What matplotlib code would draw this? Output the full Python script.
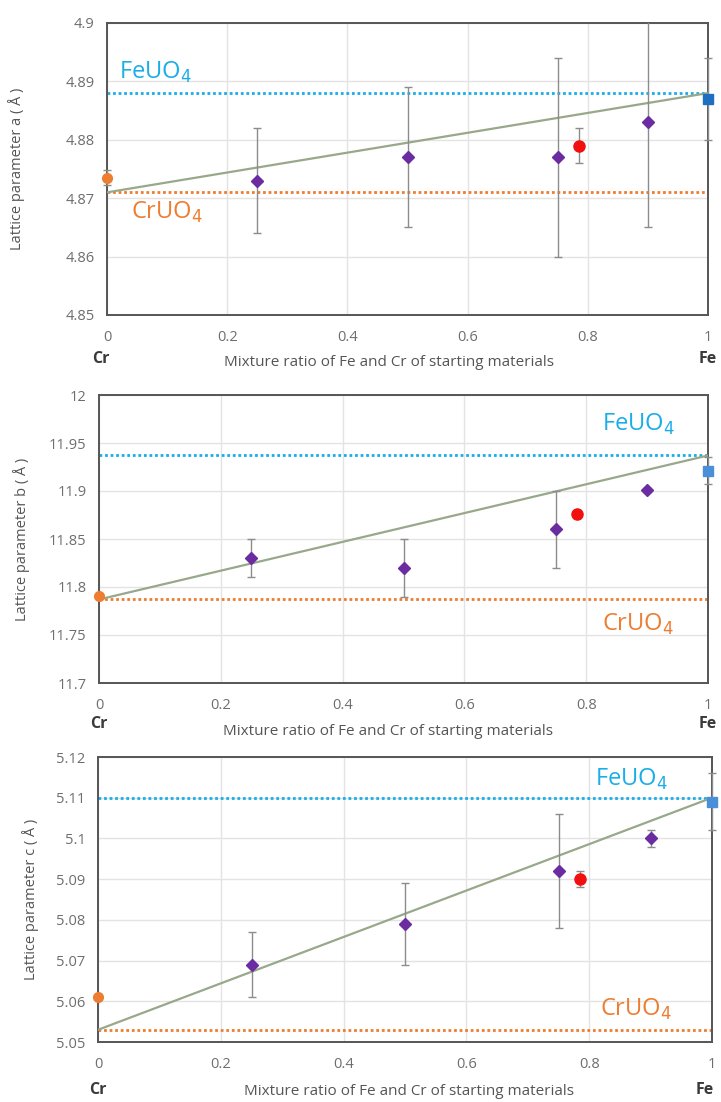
import matplotlib
matplotlib.use("Agg")
import matplotlib.pyplot as plt
import numpy as np

plt.rcParams['font.family'] = ['Open Sans', 'DejaVu Sans']

# ---------------- data ----------------
mix_x = [0.25, 0.5, 0.75, 0.9]
red_x = 0.785
end_x = [0.0, 1.0]

# lattice a
a_mix = [4.873, 4.877, 4.877, 4.883]
a_mix_err = [0.009, 0.012, 0.017, 0.018]
a_red, a_red_err = 4.879, 0.003
a_cr, a_cr_err = 4.8735, 0.0013
a_fe, a_fe_err = 4.887, 0.007
a_ref_cr, a_ref_fe = 4.871, 4.888

# lattice b
b_mix = [11.83, 11.82, 11.86, 11.901]
b_mix_err = [0.02, 0.03, 0.04, 0.002]
b_red, b_red_err = 11.876, 0.004
b_cr, b_cr_err = 11.791, 0.002
b_fe, b_fe_err = 11.921, 0.014
b_ref_cr, b_ref_fe = 11.787, 11.937

# lattice c
c_mix = [5.069, 5.079, 5.092, 5.100]
c_mix_err = [0.008, 0.010, 0.014, 0.002]
c_red, c_red_err = 5.090, 0.002
c_cr, c_cr_err = 5.061, 0.0005
c_fe, c_fe_err = 5.109, 0.007
c_ref_cr, c_ref_fe = 5.053, 5.110

xticks = [0, 0.2, 0.4, 0.6, 0.8, 1]
xtick_labels = ['0', '0.2', '0.4', '0.6', '0.8', '1']
a_ticks = [4.85, 4.86, 4.87, 4.88, 4.89, 4.9]
a_tick_labels = ['4.85', '4.86', '4.87', '4.88', '4.89', '4.9']
b_ticks = [11.7, 11.75, 11.8, 11.85, 11.9, 11.95, 12.0]
b_tick_labels = ['11.7', '11.75', '11.8', '11.85', '11.9', '11.95', '12']
c_ticks = [5.05, 5.06, 5.07, 5.08, 5.09, 5.1, 5.11, 5.12]
c_tick_labels = ['5.05', '5.06', '5.07', '5.08', '5.09', '5.1', '5.11', '5.12']

xlabel = "Mixture ratio of Fe and Cr of starting materials"

# ---------------- style ----------------
C_CYAN = '#1AAEE8'
C_ORANGE = '#ED7D31'
C_PURPLE = '#6A2CA0'
C_RED = '#F20F0F'
C_GREEN = '#98A88A'
C_ERR = '#8C8C8C'
C_GRID = '#E3E3E3'
C_SPINE = '#555555'
C_TICK = '#6E6E6E'

fig = plt.figure(figsize=(7.21, 11.02), dpi=100)

panels = [
    dict(rect=[107/721, 1-315/1102, 601/721, 292/1102], ylim=(4.85, 4.9),
         ticks=a_ticks, tl=a_tick_labels, mix=a_mix, mixe=a_mix_err, red=a_red, rede=a_red_err,
         cr=a_cr, cre=a_cr_err, fe=a_fe, fee=a_fe_err, rcr=a_ref_cr, rfe=a_ref_fe,
         ylabel='Lattice parameter a ( Å )', fecol='#1F6FC0',
         fe_txt=(0.02, 4.8915), cr_txt=(0.04, 4.8675),
         ylab_x=-0.136, xlab=(0.469, -0.164), crfe_y=-0.151, cr_x=-0.01, fe_x=1.0),
    dict(rect=[99/721, 1-683/1102, 609/721, 288/1102], ylim=(11.7, 12.0),
         ticks=b_ticks, tl=b_tick_labels, mix=b_mix, mixe=b_mix_err, red=b_red, rede=b_red_err,
         cr=b_cr, cre=b_cr_err, fe=b_fe, fee=b_fe_err, rcr=b_ref_cr, rfe=b_ref_fe,
         ylabel='Lattice parameter b ( Å )', fecol='#4A90D9',
         fe_txt=(0.826, 11.969), cr_txt=(0.826, 11.761),
         ylab_x=-0.113, xlab=(0.475, -0.167), crfe_y=-0.142, cr_x=0.0, fe_x=1.0),
    dict(rect=[98/721, 1-1042/1102, 614/721, 285/1102], ylim=(5.05, 5.12),
         ticks=c_ticks, tl=c_tick_labels, mix=c_mix, mixe=c_mix_err, red=c_red, rede=c_red_err,
         cr=c_cr, cre=c_cr_err, fe=c_fe, fee=c_fe_err, rcr=c_ref_cr, rfe=c_ref_fe,
         ylabel='Lattice parameter c ( Å )', fecol='#4A90D9',
         fe_txt=(0.81, 5.1145), cr_txt=(0.818, 5.058),
         ylab_x=-0.096, xlab=(0.506, -0.175), crfe_y=-0.168, cr_x=0.0, fe_x=0.988),
]

for p in panels:
    ax = fig.add_axes(p['rect'])
    ax.set_xlim(0, 1)
    ax.set_ylim(*p['ylim'])
    ax.set_xticks(xticks)
    ax.set_xticklabels(xtick_labels)
    ax.set_yticks(p['ticks'])
    ax.set_yticklabels(p['tl'])
    ax.grid(True, color=C_GRID, linewidth=1.0)
    ax.set_axisbelow(True)
    for s in ax.spines.values():
        s.set_color(C_SPINE)
        s.set_linewidth(1.4)
    ax.tick_params(length=0, labelsize=10.5, labelcolor=C_TICK)
    ax.tick_params(axis='x', pad=11)
    ax.tick_params(axis='y', pad=9)

    # reference lines
    ax.axhline(p['rfe'], color=C_CYAN, linestyle=(0, (1, 1)), linewidth=2.0, zorder=2)
    ax.axhline(p['rcr'], color=C_ORANGE, linestyle=(0, (1, 1)), linewidth=2.0, zorder=2)
    # Vegard line
    ax.plot(end_x, [p['rcr'], p['rfe']], color=C_GREEN, linewidth=1.6, zorder=3)

    # mixtures
    ax.errorbar(mix_x, p['mix'], yerr=p['mixe'], fmt='D', color=C_PURPLE, markersize=6.5,
                ecolor=C_ERR, elinewidth=1.0, capsize=3, capthick=1.0, zorder=4)
    ax.errorbar([red_x], [p['red']], yerr=[p['rede']], fmt='o', color=C_RED, markersize=8,
                ecolor=C_ERR, elinewidth=1.0, capsize=3, capthick=1.0, zorder=4)
    ax.errorbar([end_x[0]], [p['cr']], yerr=[p['cre']], fmt='o', color=C_ORANGE, markersize=7,
                ecolor=C_ERR, elinewidth=1.0, capsize=3, capthick=1.0, zorder=5, clip_on=False)
    ax.errorbar([end_x[1]], [p['fe']], yerr=[p['fee']], fmt='s', color=p['fecol'], markersize=7,
                ecolor=C_ERR, elinewidth=1.0, capsize=3, capthick=1.0, zorder=5, clip_on=False)

    ax.text(p['fe_txt'][0], p['fe_txt'][1], r'FeUO$_4$', color=C_CYAN, fontsize=17,
            ha='left', va='center')
    ax.text(p['cr_txt'][0], p['cr_txt'][1], r'CrUO$_4$', color=C_ORANGE, fontsize=17,
            ha='left', va='center')

    ax.set_ylabel(p['ylabel'], fontsize=10.5, color='#555555')
    ax.yaxis.set_label_coords(p['ylab_x'], 0.5)
    ax.set_xlabel(xlabel, fontsize=11, color='#555555')
    ax.xaxis.set_label_coords(p['xlab'][0], p['xlab'][1])
    ax.xaxis.label.set_va('center')
    ax.text(p['cr_x'], p['crfe_y'], 'Cr', transform=ax.transAxes, ha='center', va='center',
            fontsize=11.5, fontweight='bold', color='#3A3A3A')
    ax.text(p['fe_x'], p['crfe_y'], 'Fe', transform=ax.transAxes, ha='center', va='center',
            fontsize=11.5, fontweight='bold', color='#3A3A3A')

fig.savefig('out.png', dpi=100)
